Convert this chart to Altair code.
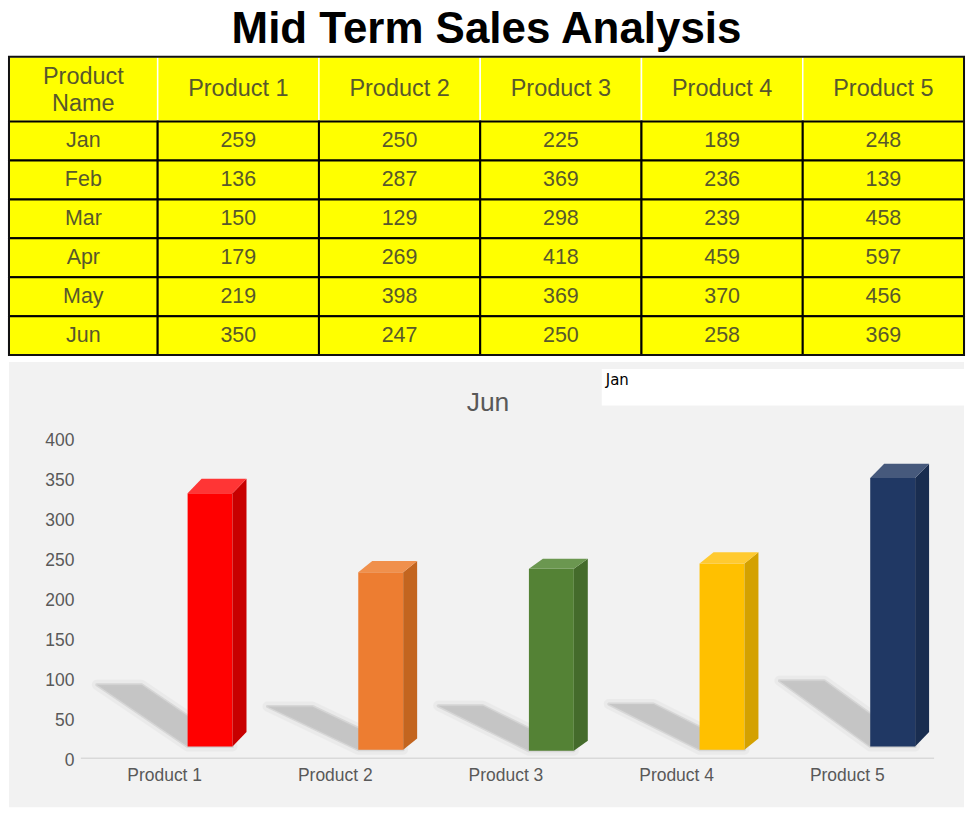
import json
import altair as alt
import pandas as pd

# ---------------- data ----------------
title_text = "Mid Term Sales Analysis"
header_label = "Product\nName"
months = ["Jan", "Feb", "Mar", "Apr", "May", "Jun"]
products = ["Product 1", "Product 2", "Product 3", "Product 4", "Product 5"]
product1 = [259, 136, 150, 179, 219, 350]
product2 = [250, 287, 129, 269, 398, 247]
product3 = [225, 369, 298, 418, 369, 250]
product4 = [189, 236, 239, 459, 370, 258]
product5 = [248, 139, 458, 597, 456, 369]
selected_month = "Jun"      # month shown in the chart
dropdown_month = "Jan"      # text in the selector box
y_ticks = [0, 50, 100, 150, 200, 250, 300, 350, 400]

# ---------------- styles ----------------
front_colors = ["#ff0000", "#ed7d31", "#548235", "#ffc000", "#203864"]
side_colors = ["#c80000", "#c3651f", "#446b2b", "#d4a100", "#192d50"]
top_colors = ["#ff3535", "#f0904c", "#6b9750", "#ffca30", "#46597c"]
FONT = "Liberation Sans"
TEXT_GRAY = "#595959"
TABLE_TEXT = "#58582c"

series = [product1, product2, product3, product4, product5]

# ---------------- title ----------------
W = 957
title_chart = alt.Chart(pd.DataFrame({"t": [title_text]})).mark_text(
    font=FONT, fontWeight="bold", fontSize=44, align="center",
    baseline="alphabetic", color="#000000"
).encode(
    x=alt.value(W / 2), y=alt.value(42), text="t:N"
).properties(width=W, height=56)

# ---------------- table ----------------
cells = [{"row": 0, "col": 0, "text": header_label}]
for c, p in enumerate(products):
    cells.append({"row": 0, "col": c + 1, "text": p})
for r, m in enumerate(months):
    cells.append({"row": r + 1, "col": 0, "text": m})
    for c, s in enumerate(series):
        cells.append({"row": r + 1, "col": c + 1, "text": str(s[r])})
cells_df = pd.DataFrame(cells)

FIRST_W = 149
COL_W = (W - FIRST_W) / 5
HEAD_H = 65
ROW_H = 39
TABLE_H = HEAD_H + ROW_H * len(months)
CHART_GAP = 7

tbase = alt.Chart(cells_df).transform_calculate(
    x0=f"datum.col == 0 ? 0 : {FIRST_W} + (datum.col - 1) * {COL_W}",
    x1=f"datum.col == 0 ? {FIRST_W} : {FIRST_W} + datum.col * {COL_W}",
    y0=f"datum.row == 0 ? 0 : {HEAD_H} + (datum.row - 1) * {ROW_H}",
    y1=f"datum.row == 0 ? {HEAD_H} : {HEAD_H} + datum.row * {ROW_H}",
).transform_calculate(
    xc="(datum.x0 + datum.x1) / 2",
    yc="(datum.y0 + datum.y1) / 2",
)
txs = alt.Scale(domain=[0, W], nice=False, zero=False)
tys = alt.Scale(domain=[0, TABLE_H + CHART_GAP], reverse=True, nice=False, zero=False)


def TX(f):
    return alt.X(f, type="quantitative", scale=txs, axis=None)


def TY(f):
    return alt.Y(f, type="quantitative", scale=tys, axis=None)


head_rects = tbase.transform_filter("datum.row == 0").mark_rect(
    fill="#ffff00", stroke="#ffffff", strokeWidth=1.5
).encode(x=TX("x0"), x2="x1:Q", y=TY("y0"), y2="y1:Q")

data_rects = tbase.transform_filter("datum.row > 0").mark_rect(
    fill="#ffff00", stroke="#000000", strokeWidth=2
).encode(x=TX("x0"), x2="x1:Q", y=TY("y0"), y2="y1:Q")

border = tbase.transform_aggregate(
    bx0="min(x0)", bx1="max(x1)", by0="min(y0)", by1="max(y1)"
).mark_rect(fill=None, fillOpacity=0, stroke="#111111", strokeWidth=2).encode(
    x=TX("bx0"), x2="bx1:Q", y=TY("by0"), y2="by1:Q"
)

head_text = tbase.transform_filter("datum.row == 0 && datum.col > 0").mark_text(
    font=FONT, fontSize=23.5, color=TABLE_TEXT, align="center", baseline="middle"
).encode(x=TX("xc"), y=TY("yc"), text="text:N")

head_text2 = tbase.transform_filter("datum.row == 0 && datum.col == 0").mark_text(
    font=FONT, fontSize=23.5, color=TABLE_TEXT, align="center",
    baseline="middle", lineBreak="\n", lineHeight=27, dy=-12.5
).encode(x=TX("xc"), y=TY("yc"), text="text:N")

data_text = tbase.transform_filter("datum.row > 0").mark_text(
    font=FONT, fontSize=21.5, color=TABLE_TEXT, align="center", baseline="middle"
).encode(x=TX("xc"), y=TY("yc"), text="text:N")

table_chart = alt.layer(
    head_rects, data_rects, border, head_text, head_text2, data_text
).properties(width=W, height=TABLE_H + CHART_GAP)

# ---------------- 3D bar chart ----------------
mi = months.index(selected_month)
bars_df = pd.DataFrame({
    "product": products,
    "idx": list(range(len(products))),
    "value": [s[mi] for s in series],
    "front": front_colors,
    "side": side_colors,
    "top": top_colors,
})

H_B = 446
U = 171.0          # px per product band
V = 0.8            # px per sales unit
X0_PX = 72         # px from plot left to first band
Y0_PX = 397        # px from plot top to zero line
x_dom = [-X0_PX / U, (W - X0_PX) / U]
y_dom = [-(H_B - Y0_PX) / V, Y0_PX / V]
xs = alt.Scale(domain=x_dom, nice=False, zero=False)
ys = alt.Scale(domain=y_dom, nice=False, zero=False)

xaxis = alt.Axis(
    values=[i + 0.5 for i in range(len(products))],
    labelExpr=f"{json.dumps(products)}[floor(datum.value)]",
    orient="bottom", offset=-(H_B - Y0_PX), domain=False, ticks=False, grid=False,
    labelPadding=8, labelFontSize=17.5, labelColor=TEXT_GRAY, labelFont=FONT,
    labelFlush=False, labelOverlap=False, labelBound=False, title=None,
    labelOffset=-2,
)
yaxis = alt.Axis(
    values=y_ticks, orient="left", offset=-X0_PX, domain=False, ticks=False,
    grid=False, labelPadding=7, labelFontSize=17.5, labelColor=TEXT_GRAY,
    labelFont=FONT, labelOverlap=False, labelFlush=False, title=None,
    labelOffset=2,
)


def BX(f):
    return alt.X(f, type="quantitative", scale=xs, axis=xaxis)


def BY(f):
    return alt.Y(f, type="quantitative", scale=ys, axis=yaxis)


bbase = alt.Chart(bars_df).transform_calculate(
    d="10 + 1.1 * pow(datum.idx - 2, 2)",
    xl=f"datum.idx + 107 / {U}",
    xr=f"datum.idx + 152 / {U}",
    dep=f"14 / {U}",
    shx=f"91 / {U}",
).transform_calculate(
    ft=f"datum.value - datum.d / {V}",
    fb=f"(datum.d - 2.5) / {V}",
    sh="0.263 * datum.value",
).transform_calculate(
    bb=f"datum.fb + datum.d / {V}",
)

two = bbase.transform_calculate(c0="0", c1="1").transform_fold(
    ["c0", "c1"], as_=["corner", "t"]
)

baseline = alt.Chart(bars_df).transform_aggregate(
    lo="min(idx)", hi="max(idx)"
).transform_calculate(hi2="datum.hi + 1", zero="0").mark_rule(
    color="#d9d9d9", strokeWidth=1.5
).encode(x=BX("lo"), x2="hi2:Q", y=BY("zero"))

shadow_calc = two.transform_calculate(
    sy="datum.t == 0 ? datum.fb : datum.sh",
    sx1="datum.t == 0 ? datum.xl : datum.xl - datum.shx",
    sx2="datum.t == 0 ? datum.xr : datum.xr - datum.shx",
)
shadow_soft = shadow_calc.mark_area(
    orient="horizontal", color="#cfcfcf", opacity=0.45,
    stroke="#cfcfcf", strokeWidth=10, strokeOpacity=0.45, strokeJoin="round"
).encode(y=BY("sy"), x=BX("sx1"), x2="sx2:Q", detail="product:N")
shadow = shadow_calc.mark_area(
    orient="horizontal", color="#c2c2c2", opacity=0.9,
    stroke="#c6c6c6", strokeWidth=3, strokeOpacity=0.6, strokeJoin="round"
).encode(y=BY("sy"), x=BX("sx1"), x2="sx2:Q", detail="product:N")

front = bbase.mark_rect().encode(
    x=BX("xl"), x2="xr:Q", y=BY("ft"), y2="fb:Q",
    color=alt.Color("front:N", scale=None),
)

side = two.transform_calculate(
    px="datum.xr + datum.t * datum.dep",
    py="datum.t == 0 ? datum.ft : datum.value",
    py2="datum.t == 0 ? datum.fb : datum.bb",
).mark_area(orient="vertical").encode(
    x=BX("px"), y=BY("py"), y2="py2:Q",
    color=alt.Color("side:N", scale=None), detail="product:N",
)

topface = two.transform_calculate(
    qy="datum.t == 0 ? datum.ft : datum.value",
    qx1="datum.xl + datum.t * datum.dep",
    qx2="datum.xr + datum.t * datum.dep",
).mark_area(orient="horizontal").encode(
    y=BY("qy"), x=BX("qx1"), x2="qx2:Q",
    color=alt.Color("top:N", scale=None), detail="product:N",
)

chart_title = alt.Chart(pd.DataFrame({"m": [selected_month]})).mark_text(
    font=FONT, fontSize=26.5, color=TEXT_GRAY, align="center", baseline="alphabetic"
).encode(x=alt.value(W / 2 + 1.5), y=alt.value(48.7), text="m:N")

sel_box = alt.Chart(pd.DataFrame({"m": [dropdown_month]})).mark_rect(
    fill="#ffffff"
).encode(x=alt.value(594), x2=alt.value(W), y=alt.value(7), y2=alt.value(43.5))

sel_text = alt.Chart(pd.DataFrame({"m": [dropdown_month]})).mark_text(
    font="DejaVu Sans", fontSize=15, color="#000000", align="left", baseline="alphabetic"
).encode(x=alt.value(598), y=alt.value(23), text="m:N")

bar_chart = alt.layer(
    baseline, shadow_soft, shadow, front, side, topface, chart_title, sel_box, sel_text
).properties(
    width=W, height=H_B, view=alt.ViewBackground(fill="#f2f2f2", stroke=None)
)

chart = alt.vconcat(
    title_chart, table_chart, bar_chart, spacing=0, bounds="flush"
).properties(
    padding={"left": 8, "top": 0, "right": 9, "bottom": 9},
    background="#ffffff",
).configure_view(stroke=None)

chart.save("out.html", embed_options={"renderer": "svg", "actions": False})
